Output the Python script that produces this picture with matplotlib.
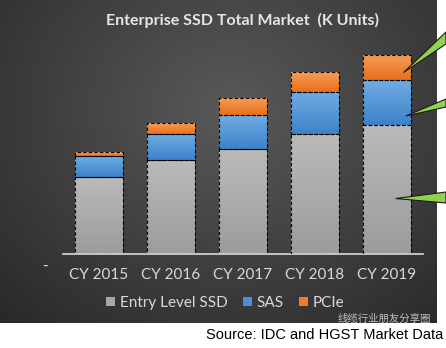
import numpy as np
import matplotlib
matplotlib.use('Agg')
import matplotlib.pyplot as plt
from matplotlib.colors import LinearSegmentedColormap
from matplotlib.patches import Polygon, Patch

years = ['CY 2015', 'CY 2016', 'CY 2017', 'CY 2018', 'CY 2019']
entry_ssd = [3850, 4700, 5250, 6000, 6450]
sas = [1050, 1300, 1700, 2100, 2250]
pcie = [200, 550, 850, 1000, 1250]

W, H = 446, 348
fig = plt.figure(figsize=(W / 100, H / 100), dpi=100)
fig.patch.set_facecolor('white')

# dark panel with radial gradient
bg = fig.add_axes([0, (H - 323) / H, 437 / W, 323 / H])
yy, xx = np.mgrid[0:323, 0:437]
r = np.sqrt(((xx - 230) / 300.0) ** 2 + ((yy - 110) / 260.0) ** 2)
shade = np.clip(0.35 - 0.17 * r, 0.16, 0.35)
bg.imshow(np.dstack([shade] * 3), aspect='auto', extent=(0, 437, 323, 0))
bg.set_axis_off()

ax = fig.add_axes([63 / W, (H - 254) / H, 360 / W, 214 / H])
ax.patch.set_alpha(0)

x = np.arange(len(years))
bottoms2 = np.array(entry_ssd)
bottoms3 = bottoms2 + np.array(sas)
series = [
    (entry_ssd, 0, ('#bababa', '#9c9c9c')),
    (sas, bottoms2, ('#70ace2', '#3d82c9')),
    (pcie, bottoms3, ('#f59c55', '#e86f1c')),
]
for vals, bot, (c_top, c_bot) in series:
    bars = ax.bar(x, vals, 0.655, bottom=bot, facecolor='none',
                  edgecolor='black', linestyle=(0, (3, 2)), linewidth=0.8, zorder=3)
    cmap = LinearSegmentedColormap.from_list('g', [c_bot, c_top])
    for b in bars:
        x0, y0 = b.get_x(), b.get_y()
        im = ax.imshow(np.linspace(0, 1, 64).reshape(-1, 1), cmap=cmap, origin='lower',
                       aspect='auto', extent=(x0, x0 + b.get_width(), y0, y0 + b.get_height()),
                       zorder=2)
        im.set_clip_path(b)
ax.set_xlim(-0.5, 4.5)
ax.set_ylim(0, 10700)

for s in ['top', 'right', 'left']:
    ax.spines[s].set_visible(False)
ax.spines['bottom'].set_color('#d9d9d9')
ax.spines['bottom'].set_linewidth(1.2)
ax.set_yticks([])
ax.set_xticks(x)
ax.set_xticklabels(years, color='#d9d9d9', fontsize=11, family='Lato')
ax.tick_params(axis='x', length=0, pad=10)

fig.text(45 / W, 1 - 265 / H, '-', color='#d9d9d9', fontsize=11, ha='center', va='center')

fig.text(243 / W, 1 - 20 / H, 'Enterprise SSD Total Market  (K Units)', color='#e6e6e6',
         fontsize=11.5, fontweight='bold', family='Lato', ha='center', va='center')

handles = [Patch(facecolor='#a8a8a8'), Patch(facecolor='#4a90d6'), Patch(facecolor='#ee7b2c')]
leg = fig.legend(handles, ['Entry Level SSD', 'SAS', 'PCIe'], loc='center',
                 bbox_to_anchor=(225 / W, 1 - 303 / H), ncol=3, frameon=False,
                 handlelength=0.6, handleheight=0.6, handletextpad=0.3, columnspacing=1.0,
                 prop={'family': 'Lato', 'size': 11})
for t in leg.get_texts():
    t.set_color('#d9d9d9')

# green callouts from the 2019 bar toward the right edge
def callout(xd, yd, y_hi, y_lo):
    px, py = ax.transData.transform((xd, yd))
    tip = fig.transFigure.inverted().transform((px, py))
    pts = [tip, (1.0, 1 - y_hi / H), (1.0, 1 - y_lo / H)]
    fig.patches.append(Polygon(pts, closed=True, transform=fig.transFigure,
                               facecolor='#92d050', edgecolor='#1a1a1a', linewidth=0.8, zorder=5))

callout(4.23, bottoms3[4] + pcie[4] * 0.3, 32, 44)
callout(4.26, bottoms2[4] + sas[4] * 0.2, 99, 107)
callout(4.12, entry_ssd[4] * 0.43, 192, 203)

fig.text(338 / W, 1 - 319 / H, '线缆行业朋友分享圈', color='#cfcfcf', fontsize=7.5,
         family='Noto Sans CJK SC', ha='left', va='center', alpha=0.9)
fig.text(443 / W, 1 - 335 / H, 'Source: IDC and HGST Market Data', color='black',
         fontsize=10.5, family='Liberation Sans', ha='right', va='center')

fig.savefig('out.png', dpi=100)
